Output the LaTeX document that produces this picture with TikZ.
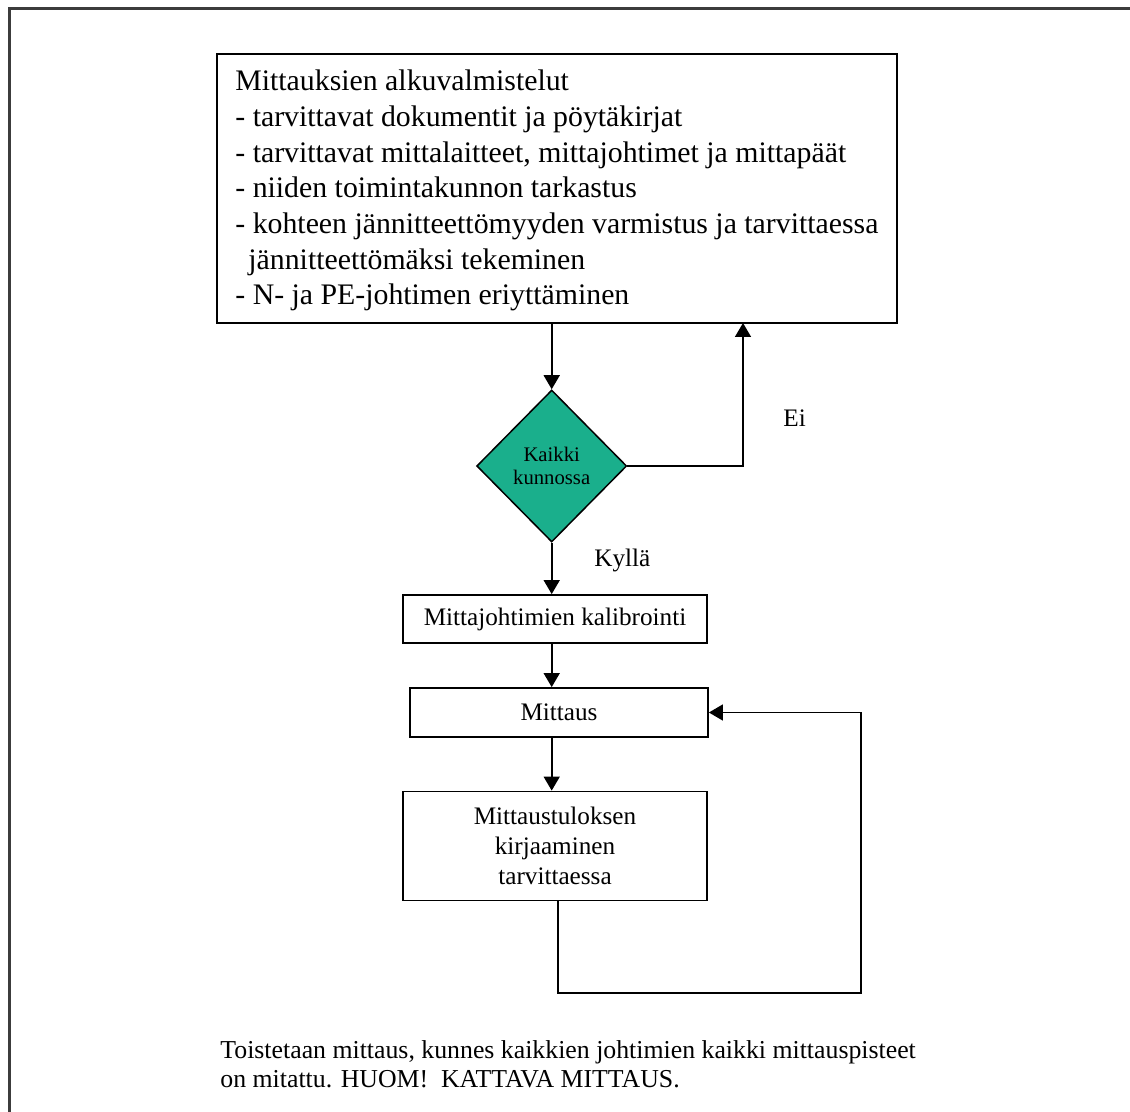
\documentclass[tikz,border=0pt]{standalone}
\usepackage{fontspec}
\setmainfont{Liberation Serif}
\usetikzlibrary{shapes.geometric,arrows.meta}
\definecolor{tealfill}{RGB}{26,175,140}
\definecolor{framegray}{RGB}{60,60,60}
\begin{document}
\begin{tikzpicture}[x=0.5pt,y=-0.5pt,
  box/.style={draw=black,line width=0.9pt,rectangle,inner sep=0pt},
  flow/.style={draw=black,line width=0.8pt,-{Triangle[length=7pt,width=8pt]}},
  bigtext/.style={inner sep=0pt,align=left,font=\fontsize{14.9}{17.85}\selectfont},
  boxtext/.style={font=\fontsize{12.6}{15}\selectfont,align=center},
  lbl/.style={inner sep=0pt,font=\fontsize{12.6}{15}\selectfont},
  decision/.style={diamond,draw=black,line width=0.75pt,fill=tealfill,inner sep=0pt,
    minimum width=75pt,minimum height=76pt,align=center,
    font=\fontsize{10.35}{11.5}\selectfont}]
\useasboundingbox (0,0) rectangle (1130,1112);
% outer frame (only top and left edges visible)
\coordinate (ftl) at (9.5,8.5);
\coordinate (ftr) at (1130,8.5);
\coordinate (fbl) at (9.5,1112);
\draw[framegray,line width=1.3pt] (fbl) -- (ftl) -- (ftr);

% preparation box
\node[box,minimum width=340pt,minimum height=134.5pt] (prep) at (557,188.5) {};
\node[bigtext,anchor=base west] (preptxt) at (235,305) {Mittauksien alkuvalmistelut\\
- tarvittavat dokumentit ja pöytäkirjat\\
- tarvittavat mittalaitteet, mittajohtimet ja mittapäät\\
- niiden toimintakunnon tarkastus\\
- kohteen jännitteettömyyden varmistus ja tarvittaessa\\
\hspace*{6.5pt}jännitteettömäksi tekeminen\\
- N- ja PE-johtimen eriyttäminen};

% decision
\node[decision] (dia) at (551.7,466) {Kaikki\\kunnossa};

% process boxes
\node[box,boxtext,minimum width=152pt,minimum height=24pt] (cal) at (555,619) {Mittajohtimien kalibrointi};
\node[box,boxtext,minimum width=149pt,minimum height=24.5pt] (mitt) at (559,712.5) {Mittaus};
\node[box,boxtext,minimum width=152pt,minimum height=54.5pt] (rec) at (555,846) {Mittaustuloksen\\kirjaaminen\\tarvittaessa};

% labels
\node[lbl,anchor=base west] (ei) at (783,427) {Ei};
\node[lbl,anchor=base west] (kylla) at (594,567) {Kyllä};

% connectors
\draw[flow] (prep.south -| dia.north) -- (dia.north);
\coordinate (eiup) at (743,323);
\draw[flow] (dia.east) -| (eiup);
\draw[flow] (dia.south) -- (dia.south |- cal.north);
\draw[flow] (dia.south |- cal.south) -- (dia.south |- mitt.north);
\draw[flow] (dia.south |- mitt.south) -- (dia.south |- rec.north);
\coordinate (loopstart) at (558,901);
\coordinate (loopbl) at (558,993);
\coordinate (loopbr) at (861,993);
\coordinate (looptr) at (861,712.5);
\draw[flow] (loopstart) -- (loopbl) -- (loopbr) -- (looptr) -- (mitt.east);

% bottom note
\node[inner sep=0pt,align=left,anchor=base west,font=\fontsize{12.9}{14.5}\selectfont] (note) at (220,1087)
 {Toistetaan mittaus, kunnes kaikkien johtimien kaikki mittauspisteet\\on mitattu. HUOM!\ \ KATTAVA MITTAUS.};
\end{tikzpicture}
\end{document}
